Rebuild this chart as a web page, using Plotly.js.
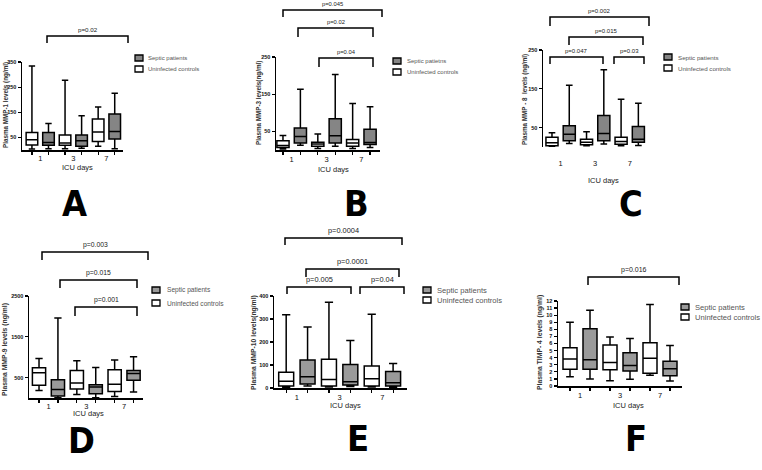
<!DOCTYPE html>
<html>
<head>
<meta charset="utf-8">
<script src="https://cdn.plot.ly/plotly-3.0.1.min.js"></script>
<style>html,body{margin:0;padding:0;background:#fff;}#chart{width:762px;height:470px;}</style>
</head>
<body>
<div id="chart"></div>
<script>
// ---------------- DATA ----------------
// each row = one ICU day: [lower whisker, Q1, median, Q3, upper whisker]
const icuDays = ['1', '3', '7'];
const groupNames = ['Septic patients', 'Uninfected controls'];
const groupNamesB = ['Septic patietns', 'Uninfected controls'];

const mmp1Septic   = [[5, 19, 30, 70, 105], [7, 15, 37, 60, 136], [5, 44, 74, 143, 226]];
const mmp1Controls = [[4, 20, 41, 70, 334], [5, 19, 28, 60, 277], [15, 34, 72, 123, 171]];

const mmp3Septic   = [[13, 19, 36, 59, 163], [10, 19, 38, 84, 203], [7, 15, 20, 56, 116]];
const mmp3Controls = [[3, 7, 12, 25, 39], [4, 10, 16, 21, 43], [4, 10, 19, 28, 125]];

const mmp8Septic   = [[9, 16, 33, 55, 159], [8, 16, 35, 81, 199], [4, 12, 20, 53, 113]];
const mmp8Controls = [[1, 3, 11, 25, 37], [3, 6, 12, 20, 39], [3, 7, 14, 25, 123]];

const mmp9Septic   = [[4, 50, 210, 450, 1963], [4, 103, 269, 326, 748], [145, 434, 599, 673, 1012]];
const mmp9Controls = [[186, 310, 616, 740, 971], [87, 219, 368, 673, 912], [37, 161, 335, 690, 930]];

const mmp10Septic   = [[9, 17, 49, 122, 265], [6, 13, 27, 102, 206], [3, 9, 23, 72, 106]];
const mmp10Controls = [[3, 9, 29, 69, 318], [4, 9, 37, 125, 373], [4, 9, 40, 96, 321]];

const timp4Septic   = [[1.0, 2.35, 3.7, 8.1, 10.7], [0.95, 2.1, 2.9, 4.7, 6.7], [0.7, 1.45, 2.45, 3.5, 5.7]];
const timp4Controls = [[1.3, 2.35, 3.8, 5.4, 9.0], [0.75, 2.3, 3.3, 5.8, 6.9], [1.5, 1.8, 3.9, 6.1, 11.5]];

const yTicksA = [50, 150, 250, 350];
const yTicksB = [50, 150, 250];
const yTicksC = [50, 150, 250];
const yTicksD = [500, 1500, 2500];
const yTicksE = [0, 100, 200, 300, 400];
const yTicksF = [0,1,2,3,4,5,6,7,8,9,10,11,12];

const pA = ['p=0.02'];
const pB = ['p=0.045', 'p=0.02', 'p=0.04'];
const pC = ['p=0.002', 'p=0.015', 'p=0.047', 'p=0.03'];
const pD = ['p=0.003', 'p=0.015', 'p=0.001'];
const pE = ['p=0.0004', 'p=0.0001', 'p=0.005', 'p=0.04'];
const pF = ['p=0.016'];

// ---------------- LAYOUT HELPERS ----------------
const W = 762, H = 470;
const fx = v => v / W;
const fy = v => 1 - v / H;
const FONT = 'Liberation Sans, Arial, sans-serif';

const panels = [
  {id:'', letter:'A', sep:mmp1Septic, ctl:mmp1Controls, names:groupNames, fill:'#858585',
   xd:[22,123], xr:[-0.6,5.5], yd:[150,62], yr:[0,350], yt:yTicksA,
   ytitle:'Plasma MMP-1 levels (ng/ml)', yt_pos:[6,105], yt_size:6.3,
   xt_pos:[77,167], letter_pos:[74,204], xline:true, standoff:0,
   brackets:[[47,128,36,43]], pv:pA, pfs:6.2,
   leg:[139,58,69,146], legfs:6},
  {id:'2', letter:'B', sep:mmp3Septic, ctl:mmp3Controls, names:groupNamesB, fill:'#858585',
   xd:[276,380], xr:[-0.4,5.57], yd:[150,57], yr:[0,250], yt:yTicksB,
   ytitle:'Plasma MMP-3 levels(ng/ml)', yt_pos:[259,103], yt_size:6.3,
   xt_pos:[333,170], letter_pos:[356,204], xline:true, standoff:1,
   brackets:[[283,382,10,17],[298,373,28,37],[319,373,58,67]], pv:pB, pfs:5.8,
   leg:[397,61,72,405], legfs:6},
  {id:'3', letter:'C', sep:mmp8Septic, ctl:mmp8Controls, names:groupNames, fill:'#858585',
   xd:[543,647], xr:[-0.52,5.5], yd:[147,50], yr:[0,250], yt:yTicksC,
   ytitle:'Plasma MMP - 8  levels (ng/ml)', yt_pos:[525,100], yt_size:6.3,
   xt_pos:[603,181], letter_pos:[631,204], xline:false, standoff:10,
   brackets:[[550,649,17,26],[569,643,37,45],[550,603,57,64],[614,644,57,64]], pv:pC, pfs:6,
   leg:[668,57,68,676], legfs:6.2},
  {id:'4', letter:'D', sep:mmp9Septic, ctl:mmp9Controls, names:groupNames, fill:'#9a9a9a',
   xd:[29,143], xr:[-0.53,5.5], yd:[398,296], yr:[0,2500], yt:yTicksD,
   ytitle:'Plasma MMP-9 levels (ng/ml)', yt_pos:[5,350], yt_size:6.8,
   xt_pos:[88,413], letter_pos:[81,440], xline:true, standoff:0,
   brackets:[[42,148,252,260],[60,137,280,288],[75,137,307,316]], pv:pD, pfs:6.8,
   leg:[156,290,303,165], legfs:6.6},
  {id:'5', letter:'E', sep:mmp10Septic, ctl:mmp10Controls, names:groupNames, fill:'#9a9a9a',
   xd:[274,407], xr:[-0.57,5.65], yd:[388,296], yr:[0,400], yt:yTicksE,
   ytitle:'Plasma MMP-10 levels(ng/ml)', yt_pos:[254,343], yt_size:6.8,
   xt_pos:[345,405], letter_pos:[358,438], xline:true, standoff:1,
   brackets:[[285,402,238,245],[306,399,269,277],[287,351,287,294],[360,404,287,294]], pv:pE, pfs:7.4,
   leg:[427,290,300,435], legfs:7.6},
  {id:'6', letter:'F', sep:timp4Septic, ctl:timp4Controls, names:groupNames, fill:'#9a9a9a',
   xd:[558,682], xr:[-0.6,5.6], yd:[386,301], yr:[0,12], yt:yTicksF,
   ytitle:'Plasma TIMP- 4 levels (ng/ml)', yt_pos:[540,343], yt_size:6.8,
   xt_pos:[628,405], letter_pos:[636,438], xline:true, standoff:1,
   brackets:[[588,679,277,285]], pv:pF, pfs:7,
   leg:[685,307,317,693], legfs:7.6}
];

const data = [];
const layout = {
  width: W, height: H, margin: {l:0, r:0, t:0, b:0},
  paper_bgcolor: '#fff', plot_bgcolor: 'rgba(0,0,0,0)',
  showlegend: false, boxmode: 'overlay',
  font: {family: FONT, color: '#222'},
  shapes: [], annotations: []
};

const col = (rows, k) => rows.map(r => r[k]);

panels.forEach(p => {
  const xa = 'x' + p.id, ya = 'y' + p.id;
  const septicX = icuDays.map((d, i) => 2 * i + 1);
  const controlX = icuDays.map((d, i) => 2 * i);
  const common = {type:'box', xaxis:xa, yaxis:ya, width:0.7, whiskerwidth:0.55,
                  line:{color:'#000', width:1.5}, hoverinfo:'skip', boxpoints:false};
  data.push(Object.assign({}, common, {
    name: p.names[1], x: controlX, fillcolor:'#ffffff',
    lowerfence: col(p.ctl,0), q1: col(p.ctl,1), median: col(p.ctl,2), q3: col(p.ctl,3), upperfence: col(p.ctl,4)
  }));
  data.push(Object.assign({}, common, {
    name: p.names[0], x: septicX, fillcolor:p.fill,
    lowerfence: col(p.sep,0), q1: col(p.sep,1), median: col(p.sep,2), q3: col(p.sep,3), upperfence: col(p.sep,4)
  }));

  layout['xaxis' + p.id] = {
    domain: [fx(p.xd[0]), fx(p.xd[1])], range: p.xr, anchor: ya,
    showline: p.xline, linecolor:'#000', linewidth:1.5, zeroline:false, showgrid:false,
    tickmode:'array', tickvals:[0.5, 2.5, 4.5], ticktext: icuDays, ticks:'',
    ticklabelstandoff: p.standoff,
    tickfont:{size:7.5, color:'#111', family:FONT},
    minor: {tickmode:'array', tickvals:[0,1,2,3,4,5], ticks: p.xline ? 'outside' : '', ticklen:3, tickwidth:1.2, tickcolor:'#000', showgrid:false}
  };
  layout['yaxis' + p.id] = {
    domain: [fy(p.yd[0]), fy(p.yd[1])], range: p.yr, anchor: xa,
    showline:true, linecolor:'#000', linewidth:1.5, zeroline:false, showgrid:false,
    tickmode:'array', tickvals:p.yt, ticks:'outside', ticklen:3, tickwidth:1.2, tickcolor:'#000',
    tickfont:{size:5.5, color:'#111', family:FONT, weight:'bold'}
  };

  // axis titles
  layout.annotations.push({xref:'paper', yref:'paper', x:fx(p.yt_pos[0]), y:fy(p.yt_pos[1]),
    text:p.ytitle, textangle:-90, showarrow:false, xanchor:'center', yanchor:'middle',
    font:{size:p.yt_size, color:'#333', family:FONT, weight:'bold'}});
  layout.annotations.push({xref:'paper', yref:'paper', x:fx(p.xt_pos[0]), y:fy(p.xt_pos[1]),
    text:'ICU days', showarrow:false, xanchor:'center', yanchor:'middle',
    font:{size:7.5, color:'#222', family:FONT}});
  // panel letter
  layout.annotations.push({xref:'paper', yref:'paper', x:fx(p.letter_pos[0]), y:fy(p.letter_pos[1]),
    text:p.letter, showarrow:false, xanchor:'center', yanchor:'middle',
    font:{size:36, color:'#000', family:'DejaVu Sans Condensed, DejaVu Sans, sans-serif', weight:'bold'}});

  // significance brackets
  p.brackets.forEach((b, i) => {
    const [x0, x1, top, drop] = b;
    layout.shapes.push({type:'path', xref:'paper', yref:'paper',
      path:`M ${fx(x0)} ${fy(drop)} L ${fx(x0)} ${fy(top)} L ${fx(x1)} ${fy(top)} L ${fx(x1)} ${fy(drop)}`,
      line:{color:'#000', width:1.5}});
    layout.annotations.push({xref:'paper', yref:'paper', x:fx((x0 + x1) / 2), y:fy(top - 1),
      text:p.pv[i], showarrow:false, xanchor:'center', yanchor:'bottom',
      font:{size:p.pfs, color:'#222', family:FONT}});
  });

  // legend (drawn as key squares + labels)
  const [lx, ly1, ly2, tx] = p.leg;
  [[ly1, p.fill, p.names[0]], [ly2, '#ffffff', p.names[1]]].forEach(([yy, fc, label]) => {
    layout.shapes.push({type:'rect', xref:'paper', yref:'paper',
      x0:fx(lx - 4), x1:fx(lx + 4), y0:fy(yy + 3), y1:fy(yy - 3),
      fillcolor:fc, line:{color:'#000', width:1.3}});
    layout.annotations.push({xref:'paper', yref:'paper', x:fx(tx), y:fy(yy),
      text:label, showarrow:false, xanchor:'left', yanchor:'middle',
      font:{size:p.legfs, color:'#555', family:FONT}});
  });
});

Plotly.newPlot('chart', data, layout, {staticPlot:true, displayModeBar:false});
</script>
</body>
</html>
